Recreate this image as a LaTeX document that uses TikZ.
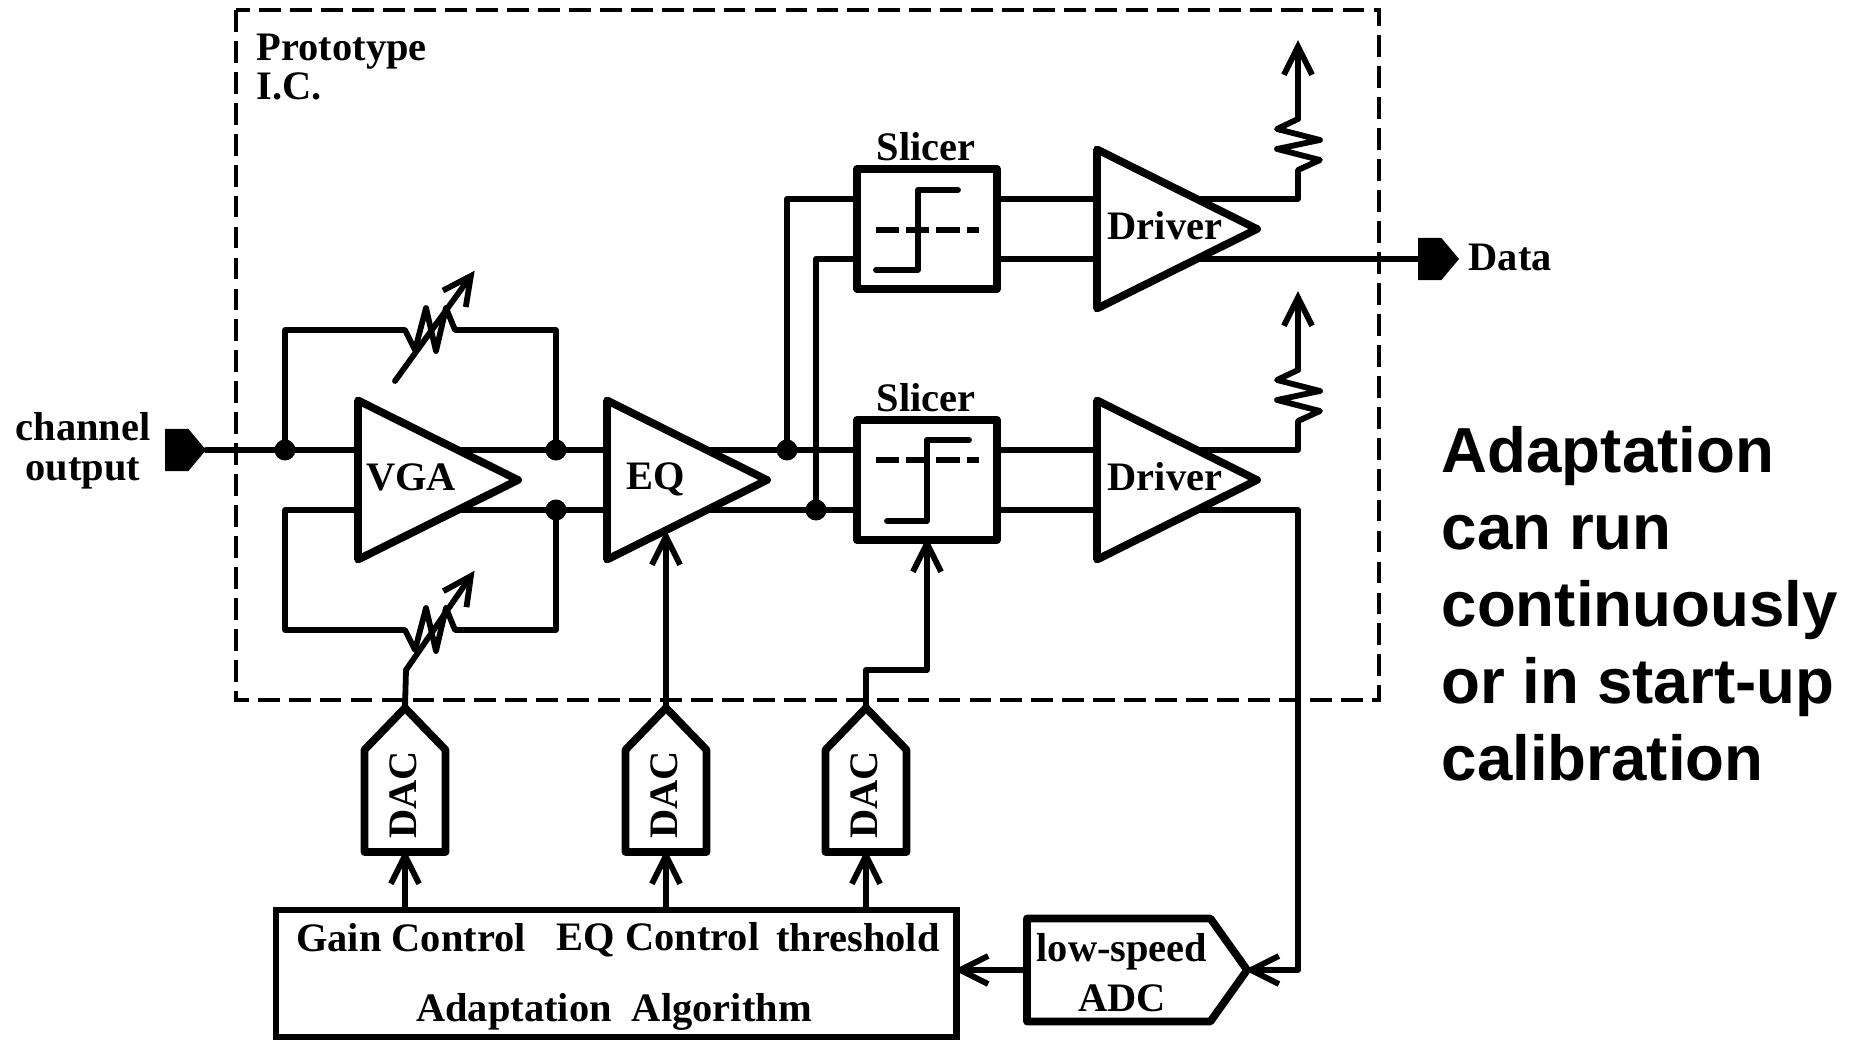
\documentclass[tikz,border=0pt]{standalone}
\usepackage{fontspec}
\setmainfont{Liberation Serif}
\newfontfamily\notefont{Liberation Sans}
\usetikzlibrary{arrows.meta,backgrounds,shapes.geometric,shapes.symbols}

\tikzset{
  wire/.style={line width=1.65pt, line join=round, line cap=round},
  arw/.style={wire, shorten >=-0.8pt, -{Straight Barb[length=8pt,width=8pt]}},
  stepdash/.style={line width=1.5pt, dash pattern=on 6.6pt off 2pt},
  lbl/.style={font=\bfseries\fontsize{11.5}{11.3}\selectfont, inner sep=0pt, align=center},
  amp/.style={draw, fill=white, line width=2.2pt, line join=round, isosceles triangle,
    isosceles triangle stretches, shape border rotate=0, minimum width=1.59cm,
    minimum height=1.60cm, inner sep=0pt, outer sep=0pt, anchor=lower side},
  slicebox/.style={draw, line width=2.2pt, line join=round, minimum width=1.40cm,
    minimum height=1.20cm, inner sep=0pt, outer sep=0pt},
  dacbox/.style={draw, line width=2.2pt, line join=round, signal, signal to=east,
    signal from=nowhere, signal pointer angle=88, rotate=90, minimum width=1.44cm,
    minimum height=0.81cm, inner sep=0pt, outer sep=0pt, anchor=west},
  pin/.style={fill=black, signal, signal to=east, signal from=nowhere,
    signal pointer angle=100, minimum width=0.41cm, minimum height=0.42cm,
    inner sep=0pt, outer sep=0pt, anchor=west},
  dot/.style={circle, fill=black, minimum size=0.21cm, inner sep=0pt, outer sep=0pt},
}

\begin{document}
\begin{tikzpicture}[x=0.01cm, y=-0.01cm]
    % page, in pixels of the 1850 x 1040 picture
    \useasboundingbox (0,0) rectangle (1850,1040);

    % Prototype chip outline
    \draw[line width=1.0pt, dash pattern=on 6.2pt off 2.6pt] (236,10) rectangle (1379,700);
    \node[lbl, anchor=west, align=left] (chiplbl) at (256,67) {Prototype\\I.C.};

    % Signal chain
    \node[pin] (pinin) at (165,450) {};
    \node[amp] (vga) at (358,480) {};
    \node[lbl] (vgalbl) at (411,477) {VGA};
    \node[amp] (eq) at (607,480) {};
    \node[lbl] (eqlbl) at (656,479) {EQ};
    \node[dot] (dotin) at (285,450) {};
    \node[dot] (dotvt) at (556,450) {};
    \node[dot] (dotvb) at (556,510) {};
    \node[dot] (dotet) at (787,450) {};
    \node[dot] (doteb) at (816,510) {};

    % Slicers and drivers
    \foreach \i/\ym in {1/229,2/480} {
      \node[slicebox] (sl\i) at (927,\ym) {};
      \node[lbl, anchor=south] (sllbl\i) at (926,\ym-67) {Slicer};
      \node[amp] (dr\i) at (1097,\ym) {};
      \node[lbl] (drlbl\i) at (1165,\ym-3) {Driver};
    }
    \node[pin] (pinout) at (1418,259) {};
    \node[lbl, anchor=west] (datalbl) at (1468,257) {Data};
    \node[lbl] (chanlbl) at (83,451) {channel\\output};

    % Bottom row
    \foreach \i/\xd in {1/405,2/666,3/866} {
      \node[dacbox] (dac\i) at (\xd,852) {};
      \node[lbl, rotate=90] (daclbl\i) at (\xd-2,795) {DAC};
    }
    \node[draw, line width=1.9pt, minimum width=6.80cm, minimum height=1.27cm,
      inner sep=0pt, outer sep=0pt, anchor=north west] (algo) at (276,910) {};
    \node[lbl] (gainlbl) at (411,938) {Gain Control};
    \node[lbl] (eqclbl) at (658,940) {EQ Control};
    \node[lbl] (thrlbl) at (858,938) {threshold};
    \node[lbl] (algolbl) at (614,1012) {Adaptation\ \ Algorithm};
    \node[draw, line width=2.2pt, line join=round, signal, signal to=east, signal from=nowhere,
      signal pointer angle=109, minimum width=2.20cm, minimum height=1.03cm, inner sep=0pt,
      outer sep=0pt, anchor=west] (adc) at (1027,970) {};
    \node[lbl, font=\bfseries\fontsize{11.5}{14.2}\selectfont] (adclbl) at (1122,973) {low-speed\\ADC};

    % Note on the right
    \node[anchor=west, align=left, inner sep=0pt, text=black,
      font=\notefont\bfseries\fontsize{18.1}{21.9}\selectfont] (note) at (1441,604)
      {Adaptation\\can run\\continuously\\or in start-up\\calibration};

    \begin{pgfonlayer}{background}
      % VGA input and the two differential lines
      \draw[wire] (pinin.east) -- (dotin.center) -- (vga.lower side |- dotin);
      \draw[wire] (vga.lower side |- dotvt) -- (dotvt.center) -- (eq.lower side |- dotvt);
      \draw[wire] (vga.lower side |- dotvb) -- (dotvb.center) -- (eq.lower side |- dotvb);
      \draw[wire] (eq.lower side |- dotet) -- (dotet.center) -- (sl2.west |- dotet);
      \draw[wire] (eq.lower side |- doteb) -- (doteb.center) -- (sl2.west |- doteb);

      % Tunable feedback around the VGA
      \foreach \yr/\xb/\yb in {330/395/381, 630/406/670} {
        \draw[arw] (\xb,\yb) -- (473,\yr-57);
      }
      \draw[wire] (dotin.center) |- (405,330) -- (415,350) -- (426,308) -- (436,351) -- (446,308)
        -- (455,330) -| (dotvt.center);
      \draw[wire] (vga.lower side |- dotvb) -| (285,630) -- (405,630) -- (415,650) -- (426,608)
        -- (436,651) -- (446,608) -- (455,630) -| (dotvb.center);

      % Up to the first slicer
      \draw[wire] (dotet.center) |- (sl1.west |- 0,199);
      \draw[wire] (doteb.center) |- (sl1.west |- 0,259);

      % Slicer to driver, then driver outputs
      \foreach \i/\ym in {1/229,2/480} {
        \draw[wire] (sl\i.east |- 0,\ym-30) -- (dr\i.lower side |- 0,\ym-30);
        \draw[wire] (sl\i.east |- 0,\ym+30) -- (dr\i.lower side |- 0,\ym+30);
        \coordinate (vdd\i) at (1298,\ym-186);
        \draw[wire] (dr\i.lower side |- 0,\ym-30) -- (1298,\ym-30) -- (1298,\ym-59) -- ++(22,-10)
          -- ++(-43,-11) -- ++(43,-9) -- ++(-43,-11) -- ++(21,-10);
        \draw[arw] (1298,\ym-110) -- (vdd\i);
      }
      \draw[wire] (dr1.lower side |- pinout) -- (pinout.west);
      \draw[arw] (dr2.lower side |- 0,510) -- (1298,510) |- (adc.east);
      \draw[arw] (adc.west) -- (adc.west -| algo.east);

      % Control lines
      \foreach \i in {1,2,3} {
        \draw[arw] (dac\i.west |- algo.north) -- (dac\i.west);
      }
      \draw[wire] (dac1.east) -- (406,670);
      \draw[arw] (dac2.east) -- (666,533);
      \draw[arw] (dac3.east) -- ++(0,-38) -| (sl2.south);
    \end{pgfonlayer}

    % Step curves inside the slicers
    \draw[wire] (958,190) -- (918,190) -- (918,270) -- (876,270);
    \draw[stepdash] (876,230) -- (979,230);
    \draw[wire] (969,440) -- (927,440) -- (927,521) -- (887,521);
    \draw[stepdash] (876,460) -- (979,460);
\end{tikzpicture}
\end{document}
